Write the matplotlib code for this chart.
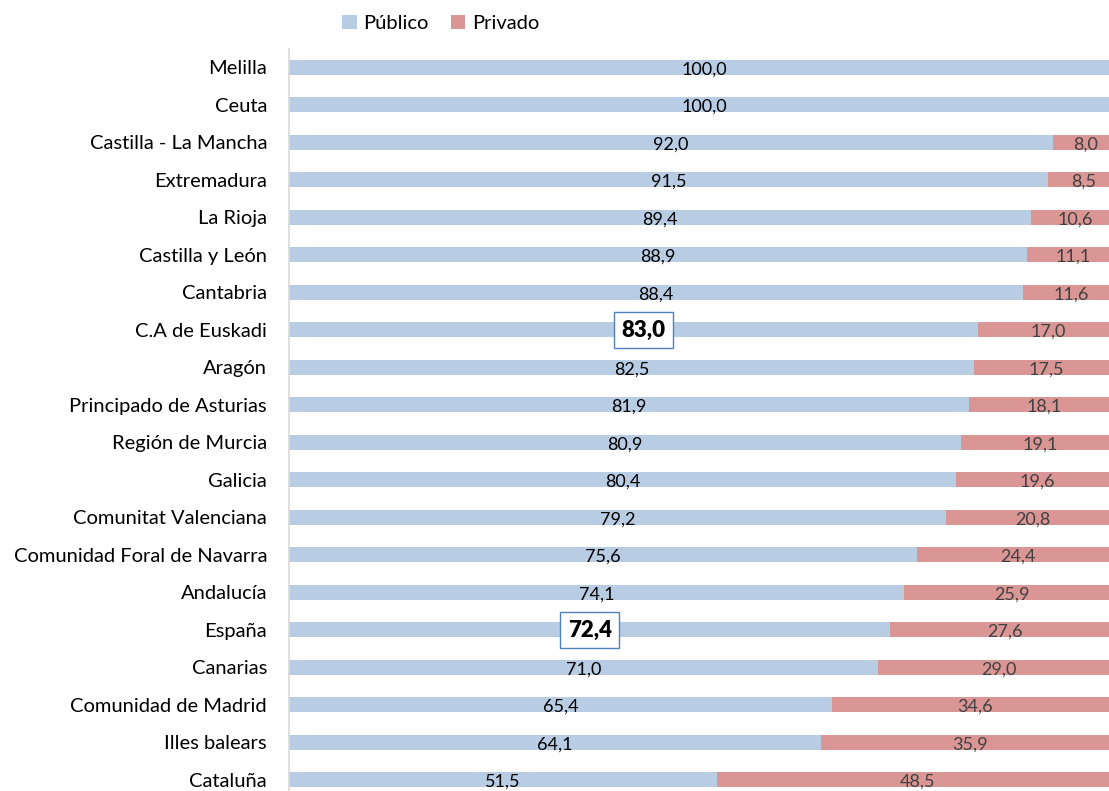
import matplotlib
matplotlib.use('Agg')
import matplotlib.pyplot as plt

regions = ['Melilla', 'Ceuta', 'Castilla - La Mancha', 'Extremadura', 'La Rioja',
           'Castilla y León', 'Cantabria', 'C.A de Euskadi', 'Aragón',
           'Principado de Asturias', 'Región de Murcia', 'Galicia',
           'Comunitat Valenciana', 'Comunidad Foral de Navarra', 'Andalucía',
           'España', 'Canarias', 'Comunidad de Madrid', 'Illes balears', 'Cataluña']
publico = [100.0, 100.0, 92.0, 91.5, 89.4, 88.9, 88.4, 83.0, 82.5, 81.9,
           80.9, 80.4, 79.2, 75.6, 74.1, 72.4, 71.0, 65.4, 64.1, 51.5]
privado = [0.0, 0.0, 8.0, 8.5, 10.6, 11.1, 11.6, 17.0, 17.5, 18.1,
           19.1, 19.6, 20.8, 24.4, 25.9, 27.6, 29.0, 34.6, 35.9, 48.5]
highlight = ['C.A de Euskadi', 'España']

plt.rcParams['font.family'] = ['Lato', 'DejaVu Sans']

blue = '#B8CCE4'
red = '#DA9694'

fig = plt.figure(figsize=(11.09, 7.91), dpi=100)
# axes extend a bit past the right and bottom edges, like the cropped original
ax = fig.add_axes([289.3 / 1109, -7.75 / 791, 829.7 / 1109, 750 / 791])

y = list(range(len(regions)))
ax.barh(y, publico, height=0.4, color=blue, label='Público')
ax.barh(y, privado, left=publico, height=0.4, color=red, label='Privado')

for i, (reg, pu, pr) in enumerate(zip(regions, publico, privado)):
    lab = f'{pu:.1f}'.replace('.', ',')
    if reg in highlight:
        ax.text(pu / 2 + (1.2 if reg == 'C.A de Euskadi' else 0), i, lab,
                ha='center', va='center', fontsize=16, fontweight='heavy',
                color='black',
                bbox=dict(boxstyle='square,pad=0.35', fc='white', ec='#4F81BD', lw=1))
    else:
        ax.text(pu / 2, i + 0.05, lab, ha='center', va='center', fontsize=13,
                color='black')
    if pr > 0:
        ax.text(pu + pr / 2, i + 0.05, f'{pr:.1f}'.replace('.', ','), ha='center',
                va='center', fontsize=13, color='#404040')

ax.set_xlim(0, 100)
ax.set_ylim(len(regions) - 0.5, -0.5)
ax.set_yticks(y)
ax.set_yticklabels(regions, fontsize=14.5)
ax.tick_params(axis='y', length=0, pad=16)
ax.set_xticks([])
for s in ['top', 'right', 'bottom']:
    ax.spines[s].set_visible(False)
ax.spines['left'].set_color('#D9D9D9')
ax.spines['left'].set_linewidth(1.2)

fig.legend(loc='upper center', bbox_to_anchor=(441 / 1109, 1.004), ncol=2,
           frameon=False, fontsize=14.5, handlelength=0.7, handleheight=0.7,
           handletextpad=0.35, columnspacing=1.1)

plt.savefig('out.png', dpi=100)
